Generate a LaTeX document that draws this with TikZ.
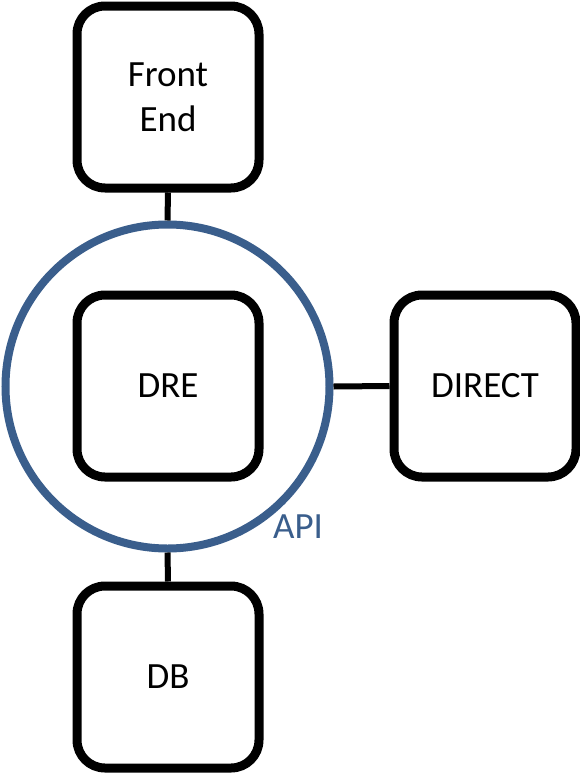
\documentclass[tikz,border=0pt]{standalone}
\usepackage{fontspec}
\setmainfont{Carlito}
\definecolor{apiblue}{HTML}{3A5E8C}

\tikzset{
  block/.style={draw=black,line width=9pt,rounded corners=28pt,fill=white,
    minimum size=182pt,inner sep=0pt,align=center,
    font=\fontsize{37}{45}\selectfont},
  link/.style={line width=6pt}
}

\begin{document}
\begin{tikzpicture}[x=1pt,y=-1pt]
        \useasboundingbox (0,0) rectangle (580,774);

        \node[circle,draw=apiblue,line width=8pt,minimum size=324pt,inner sep=0pt](api) at (167.5,386.5){};
        \node[text=apiblue,font=\fontsize{37}{45}\selectfont](apilabel) at (298,527){API};

        \node[block](fe) at (168,97){Front\\End};
        \node[block](dre) at (168,386){DRE};
        \node[block](direct) at (485,386){DIRECT};
        \node[block](db) at (168,677){DB};

        \draw[link](fe.south)--(api.north);
        \draw[link](api.east)--(direct.west);
        \draw[link](api.south)--(db.north);
    \end{tikzpicture}
\end{document}
